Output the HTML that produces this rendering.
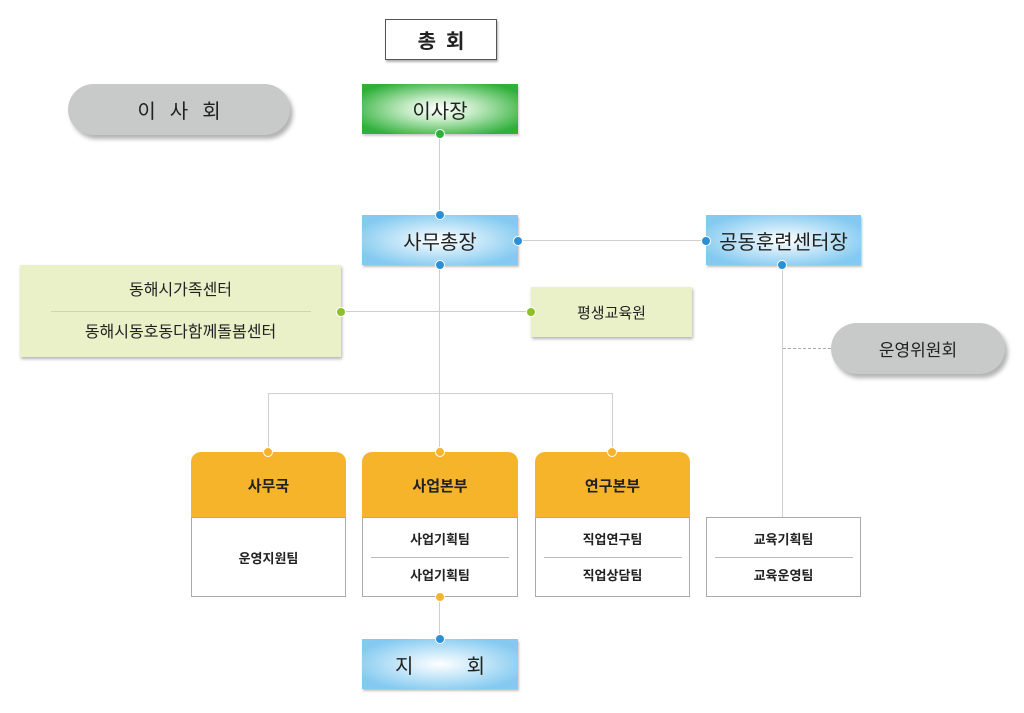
<!DOCTYPE html>
<html><head><meta charset="utf-8">
<style>
body{margin:0;width:1024px;height:713px;background:#fff;position:relative;overflow:hidden;font-family:"Liberation Sans","Noto Sans CJK KR",sans-serif;color:#222}
.a{position:absolute;box-sizing:border-box;display:flex;align-items:center;justify-content:center}
.ln{position:absolute;background:#cfcfcf}
.dot{position:absolute;width:8px;height:8px;border-radius:50%;border:1.5px solid #fff;box-sizing:content-box;transform:translate(-50%,-50%)}
.blue{background:radial-gradient(ellipse at center,#fff 0%,#c9e8f9 35%,#84caf0 80%);box-shadow:1px 2px 2px rgba(0,0,0,.25);font-size:20px}
.orh{background:#f6b42b;border-radius:10px 10px 0 0;font-size:15px;font-weight:bold}
.wb{background:#fff;border:1px solid #aaa;font-size:13px;font-weight:bold;flex-direction:column}
.pill{background:#c8c9c9;border-radius:26px;box-shadow:3px 4px 4px rgba(0,0,0,.3)}
</style></head><body>
<!-- lines -->
<div class="ln" style="left:439px;top:134px;width:1px;height:81px"></div>
<div class="ln" style="left:518px;top:240px;width:188px;height:1px"></div>
<div class="ln" style="left:439px;top:265px;width:1px;height:187px"></div>
<div class="ln" style="left:341px;top:311px;width:190px;height:1px"></div>
<div class="ln" style="left:268px;top:393px;width:345px;height:1px"></div>
<div class="ln" style="left:268px;top:393px;width:1px;height:59px"></div>
<div class="ln" style="left:612px;top:393px;width:1px;height:59px"></div>
<div class="ln" style="left:782px;top:265px;width:1px;height:252px"></div>
<div style="position:absolute;left:783px;top:348px;width:48px;border-top:1px dashed #aaa"></div>
<div class="ln" style="left:439px;top:596px;width:1px;height:43px"></div>

<div class="a" style="left:385px;top:19px;width:112px;height:41px;border:1px solid #555;box-shadow:1px 2px 2px rgba(0,0,0,.3);font-size:20px;font-weight:bold;letter-spacing:10px;padding-left:10px;background:#fff">총회</div>
<div class="a pill" style="left:68px;top:84px;width:222px;height:51px;font-size:20px;letter-spacing:14px;padding-left:14px">이사회</div>
<div class="a" style="left:362px;top:84px;width:156px;height:50px;background:radial-gradient(ellipse at center,#fff 0%,#c8ecc8 30%,#2fb03a 85%);font-size:20px;box-shadow:1px 2px 2px rgba(0,0,0,.2)">이사장</div>
<div class="a blue" style="left:362px;top:215px;width:156px;height:50px">사무총장</div>
<div class="a blue" style="left:706px;top:215px;width:155px;height:50px">공동훈련센터장</div>

<div class="a" style="left:20px;top:265px;width:321px;height:92px;background:#eaf1c9;box-shadow:1px 2px 3px rgba(0,0,0,.3);flex-direction:column;font-size:16px">
<div style="height:45px;line-height:50px">동해시가족센터</div>
<div style="width:260px;border-top:1px solid #cfd4b8"></div>
<div style="height:45px;line-height:42px">동해시동호동다함께돌봄센터</div></div>
<div class="a" style="left:531px;top:287px;width:161px;height:50px;background:#eaf1c9;box-shadow:1px 2px 3px rgba(0,0,0,.3);font-size:15px">평생교육원</div>
<div class="a pill" style="left:831px;top:323px;width:174px;height:51px;font-size:17px">운영위원회</div>

<div class="a orh" style="left:191px;top:452px;width:155px;height:66px">사무국</div>
<div class="a wb" style="left:191px;top:517px;width:155px;height:80px">운영지원팀</div>
<div class="a orh" style="left:362px;top:452px;width:156px;height:66px">사업본부</div>
<div class="a wb" style="left:362px;top:517px;width:156px;height:80px"><div style="height:38px;line-height:42px">사업기획팀</div><div style="width:138px;border-top:1px solid #bbb"></div><div style="height:38px;line-height:36px">사업기획팀</div></div>
<div class="a orh" style="left:535px;top:452px;width:155px;height:66px">연구본부</div>
<div class="a wb" style="left:535px;top:517px;width:155px;height:80px"><div style="height:38px;line-height:42px">직업연구팀</div><div style="width:138px;border-top:1px solid #bbb"></div><div style="height:38px;line-height:36px">직업상담팀</div></div>
<div class="a wb" style="left:706px;top:517px;width:155px;height:80px"><div style="height:38px;line-height:42px">교육기획팀</div><div style="width:138px;border-top:1px solid #bbb"></div><div style="height:38px;line-height:36px">교육운영팀</div></div>
<div class="a blue" style="left:362px;top:639px;width:156px;height:50px;justify-content:space-between;padding:0 33px 0 33px">지<span>회</span></div>

<!-- dots -->
<div class="dot" style="left:440px;top:134px;background:#2fb03a"></div>
<div class="dot" style="left:440px;top:215px;background:#2a8fd6"></div>
<div class="dot" style="left:440px;top:265px;background:#2a8fd6"></div>
<div class="dot" style="left:518px;top:241px;background:#2a8fd6"></div>
<div class="dot" style="left:706px;top:241px;background:#2a8fd6"></div>
<div class="dot" style="left:782px;top:265px;background:#2a8fd6"></div>
<div class="dot" style="left:341px;top:312px;background:#8ec02a"></div>
<div class="dot" style="left:531px;top:312px;background:#8ec02a"></div>
<div class="dot" style="left:268px;top:452px;background:#f6b42b"></div>
<div class="dot" style="left:440px;top:452px;background:#f6b42b"></div>
<div class="dot" style="left:612px;top:452px;background:#f6b42b"></div>
<div class="dot" style="left:440px;top:597px;background:#f6b42b"></div>
<div class="dot" style="left:440px;top:639px;background:#2a8fd6"></div>
</body></html>
